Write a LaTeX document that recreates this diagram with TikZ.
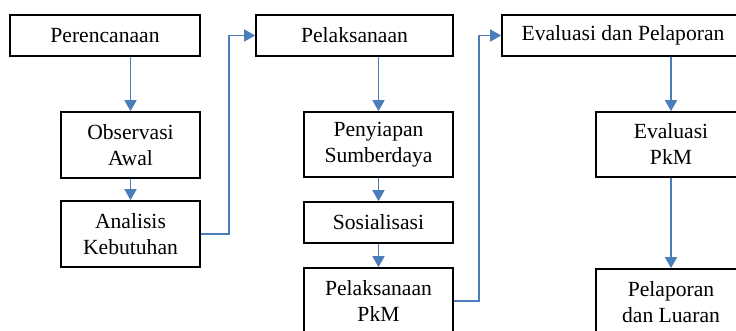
\documentclass[tikz,border=0pt]{standalone}
\usepackage{fontspec}
\setmainfont{Liberation Serif}
\usetikzlibrary{arrows.meta,calc}
\definecolor{linkblue}{RGB}{74,126,187}
\begin{document}
\begin{tikzpicture}[x=1pt,y=-1pt,
  box/.style={draw=black,line width=1.7pt,inner sep=0pt,align=center,
    font=\fontsize{21.6}{26}\selectfont},
  conn/.style={draw=linkblue,line width=1.6pt,-{Triangle[length=11pt,width=12pt]}}]
\useasboundingbox (0,0) rectangle (736,330);
\clip (0,0) rectangle (736,330);
% column 1
\node[box,minimum width=190pt,minimum height=41pt] (A) at (105,35.5) {Perencanaan};
\node[box,minimum width=139pt,minimum height=66pt] (B) at (130.5,145) {Observasi\\Awal};
\node[box,minimum width=139pt,minimum height=66pt] (C) at (130.5,234) {Analisis\\Kebutuhan};
% column 2
\node[box,minimum width=197pt,minimum height=41pt] (D) at (354.5,35.5) {Pelaksanaan};
\node[box,minimum width=149pt,minimum height=65pt] (E) at (378.5,144.5) {Penyiapan\\Sumberdaya};
\node[box,minimum width=149pt,minimum height=41pt] (F) at (378.5,222.5) {Sosialisasi};
\node[box,minimum width=149pt,minimum height=66pt] (G) at (378.5,301) {Pelaksanaan\\PkM};
% column 3
\node[box,minimum width=242pt,minimum height=41pt] (H) at (623,35.5) {Evaluasi dan Pelaporan};
\node[box,minimum width=150pt,minimum height=65pt] (I) at (671,144.5) {Evaluasi\\PkM};
\node[box,minimum width=150pt,minimum height=66pt] (J) at (671,302) {Pelaporan\\dan Luaran};
% connectors
\draw[conn] (A.south -| B) -- (B.north);
\draw[conn] (B.south) -- (C.north);
\draw[conn] (C.east) -- ++(28,0) |- (D.west);
\draw[conn] (D.south -| E) -- (E.north);
\draw[conn] (E.south) -- (F.north);
\draw[conn] (F.south) -- (G.north);
\draw[conn] (G.east) -- ++(25,0) |- (H.west);
\draw[conn] (H.south -| I) -- (I.north);
\draw[conn] (I.south) -- (J.north);
\end{tikzpicture}
\end{document}
